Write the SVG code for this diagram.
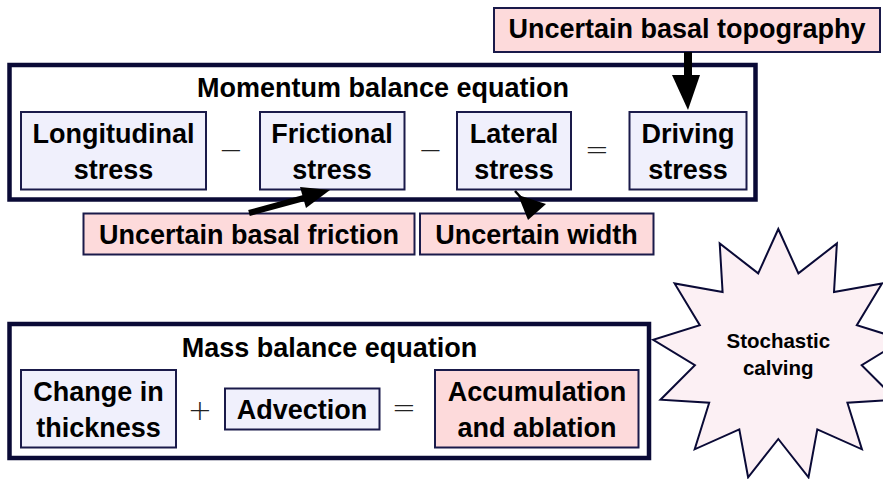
<svg xmlns="http://www.w3.org/2000/svg" width="883" height="479" viewBox="0 0 883 479">
<style>
  .frame { fill: #ffffff; stroke: #0a0a36; stroke-width: 4.5; }
  .blue { fill: #f0f0fc; stroke: #1a1a4a; stroke-width: 2; }
  .pink { fill: #fddadb; stroke: #1a1a4a; stroke-width: 2; }
  .star { fill: #fcf0f4; stroke: #0a0a36; stroke-width: 2; }
  text { font-family: "Liberation Sans", Arial, sans-serif; font-weight: bold; font-size: 27px; fill: #000; text-anchor: middle; }
  .op { font-family: "DejaVu Sans", sans-serif; font-weight: 200; font-size: 29px; fill: #222; }
  .small { font-size: 20.5px; }
  .arrow { fill: #000; stroke: none; }
</style>

<g id="momentum">
  <rect class="frame" x="9.5" y="65" width="746" height="134.5"/>
  <text x="383" y="97">Momentum balance equation</text>
</g>
<g id="longitudinal">
  <rect class="blue" x="21" y="112" width="185" height="77.5"/>
  <text x="113.5" y="143">Longitudinal</text>
  <text x="113.5" y="178.5">stress</text>
</g>
<text class="op" x="231" y="160">−</text>
<g id="frictional">
  <rect class="blue" x="260" y="112" width="144.5" height="77.5"/>
  <text x="332" y="143">Frictional</text>
  <text x="332" y="178.5">stress</text>
</g>
<text class="op" x="430.5" y="160">−</text>
<g id="lateral">
  <rect class="blue" x="457" y="112" width="114" height="77.5"/>
  <text x="514" y="143">Lateral</text>
  <text x="514" y="178.5">stress</text>
</g>
<text class="op" x="597" y="158.5">=</text>
<g id="driving">
  <rect class="blue" x="629.5" y="112" width="117" height="77.5"/>
  <text x="688" y="143">Driving</text>
  <text x="688" y="178.5">stress</text>
</g>

<g id="topography">
  <rect class="pink" x="494" y="8" width="386" height="44"/>
  <text x="687" y="37.5">Uncertain basal topography</text>
</g>
<g id="basal-friction">
  <rect class="pink" x="83.5" y="213.5" width="331" height="41"/>
  <text x="249" y="244">Uncertain basal friction</text>
</g>
<g id="width">
  <rect class="pink" x="420" y="213.5" width="233.5" height="41"/>
  <text x="536.5" y="244">Uncertain width</text>
</g>

<g id="mass">
  <rect class="frame" x="9.5" y="324" width="639.5" height="134"/>
  <text x="329.5" y="356.5">Mass balance equation</text>
</g>
<g id="change-in-thickness">
  <rect class="blue" x="21" y="370" width="155" height="77.5"/>
  <text x="98.5" y="400.5">Change in</text>
  <text x="98.5" y="436.5">thickness</text>
</g>
<text class="op" x="200" y="420">+</text>
<g id="advection">
  <rect class="blue" x="225" y="388.5" width="154.5" height="41"/>
  <text x="302" y="418.5">Advection</text>
</g>
<text class="op" x="404" y="416.5">=</text>
<g id="accumulation">
  <rect class="pink" x="435" y="370" width="203.5" height="77.5"/>
  <text x="537" y="400.5">Accumulation</text>
  <text x="537" y="436.5">and ablation</text>
</g>

<g id="calving">
  <polygon class="star" points="778.3,229 798.4,273.4 836.9,243.4 834.0,292.1 882.0,283.4 856.8,325.2 903.4,339.8 861.7,365.1 896.1,399.7 847.4,402.7 861.9,449.3 817.3,429.4 808.5,477.3 778.3,439 748.1,477.3 739.3,429.4 694.7,449.3 709.2,402.7 660.5,399.7 694.9,365.1 653.2,339.8 699.8,325.2 674.6,283.4 722.6,292.1 719.7,243.4 758.2,273.4"/>
  <text class="small" x="778.3" y="348">Stochastic</text>
  <text class="small" x="778.3" y="375">calving</text>
</g>

<g id="connectors">
  <rect class="arrow" x="684" y="52" width="8" height="24"/>
  <polygon class="arrow" points="672,75 700,75 688,110"/>
  <line x1="249" y1="213" x2="304" y2="198" stroke="#000" stroke-width="6"/>
  <polygon class="arrow" points="300,187 306,208 330,190"/>
  <line x1="515" y1="191" x2="525" y2="202" stroke="#000" stroke-width="2.5"/>
  <polygon class="arrow" points="518,195 546,204 528,220"/>
</g>
</svg>
